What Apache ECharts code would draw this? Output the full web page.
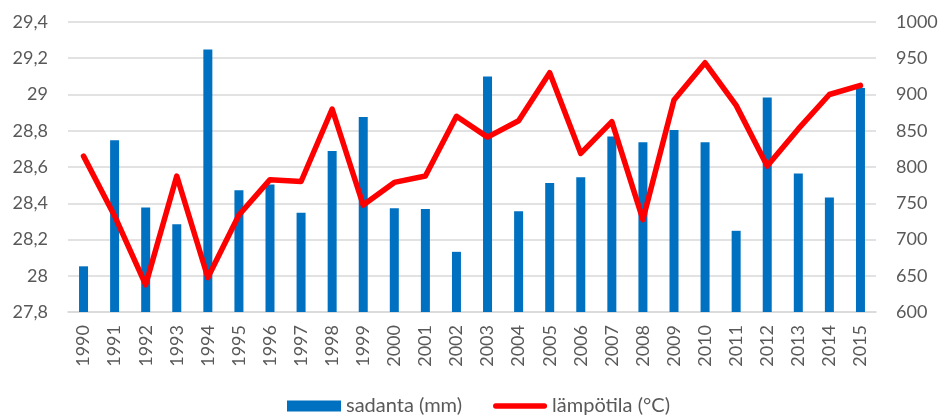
<!DOCTYPE html>
<html>
<head>
<meta charset="utf-8">
<script src="https://cdn.jsdelivr.net/npm/echarts@6/dist/echarts.min.js"></script>
<style>
  html, body { margin: 0; padding: 0; background: #ffffff; }
  #chart { width: 942px; height: 415px; }
</style>
</head>
<body>
<div id="chart"></div>
<script>
// Years on the category axis
const years = ['1990','1991','1992','1993','1994','1995','1996','1997','1998','1999',
  '2000','2001','2002','2003','2004','2005','2006','2007','2008','2009',
  '2010','2011','2012','2013','2014','2015'];

// Annual precipitation, mm (right axis)
const sadanta = [663, 837, 744, 721, 962, 768, 776, 737, 822, 869,
  743, 742, 683, 925, 739, 778, 786, 842, 834, 851,
  834, 712, 896, 791, 758, 909];

// Temperature series (left axis)
const lampotila = [28.66, 28.33, 27.95, 28.55, 27.99, 28.335, 28.53, 28.52, 28.92, 28.39,
  28.515, 28.55, 28.88, 28.765, 28.855, 29.12, 28.675, 28.85, 28.31, 28.97,
  29.175, 28.94, 28.605, 28.81, 29.0, 29.05];

// Axis ranges
const leftAxis = { min: 27.8, max: 29.4, step: 0.2 };
const rightAxis = { min: 600, max: 1000, step: 50 };

const textColor = '#595959';
const gridColor = '#d9d9d9';
const fontFamily = 'Lato, "Open Sans", sans-serif';

// Thick rounded stroke used as the legend key of the line series
const lineKey = 'path://M2.7,0 L51.3,0 A2.7,2.7 0 0 1 51.3,5.4 L2.7,5.4 A2.7,2.7 0 0 1 2.7,0 Z';

const chart = echarts.init(document.getElementById('chart'), null, { renderer: 'canvas' });

chart.setOption({
  animation: false,
  backgroundColor: '#ffffff',
  textStyle: { fontFamily: fontFamily },
  grid: { left: 68, right: 66, top: 22, bottom: 103, containLabel: false },
  legend: {
    top: 396,
    left: 287,
    padding: 0,
    itemWidth: 54,
    itemHeight: 11,
    itemGap: 31,
    textStyle: { color: textColor, fontSize: 20, fontFamily: fontFamily },
    data: [
      { name: 'sadanta (mm)', icon: 'rect' },
      { name: 'lämpötila (°C)', icon: lineKey, itemStyle: { color: '#FF0000', borderWidth: 0 } }
    ]
  },
  xAxis: {
    type: 'category',
    data: years,
    boundaryGap: true,
    axisTick: { show: false },
    axisLine: { lineStyle: { color: gridColor, width: 1.5 } },
    axisLabel: {
      rotate: 90,
      margin: 13,
      color: textColor,
      fontSize: 18,
      fontFamily: fontFamily,
      interval: 0
    }
  },
  yAxis: [
    {
      type: 'value',
      position: 'left',
      min: leftAxis.min,
      max: leftAxis.max,
      interval: leftAxis.step,
      axisLine: { show: false },
      axisTick: { show: false },
      splitLine: { lineStyle: { color: gridColor, width: 1.5 } },
      axisLabel: {
        margin: 20,
        color: textColor,
        fontSize: 18,
        fontFamily: fontFamily,
        formatter: v => String(Number(v.toFixed(1))).replace('.', ',')
      }
    },
    {
      type: 'value',
      position: 'right',
      min: rightAxis.min,
      max: rightAxis.max,
      interval: rightAxis.step,
      axisLine: { show: false },
      axisTick: { show: false },
      splitLine: { show: false },
      axisLabel: {
        margin: 20,
        color: textColor,
        fontSize: 18,
        fontFamily: fontFamily,
        formatter: v => String(Math.round(v))
      }
    }
  ],
  series: [
    {
      name: 'sadanta (mm)',
      type: 'bar',
      yAxisIndex: 1,
      data: sadanta,
      barWidth: 9,
      itemStyle: { color: '#0070C0' }
    },
    {
      name: 'lämpötila (°C)',
      type: 'line',
      yAxisIndex: 0,
      data: lampotila,
      symbol: 'none',
      itemStyle: { color: '#FF0000' },
      lineStyle: { color: '#FF0000', width: 5.5, cap: 'round', join: 'round' },
      z: 3
    }
  ]
});
</script>
</body>
</html>
